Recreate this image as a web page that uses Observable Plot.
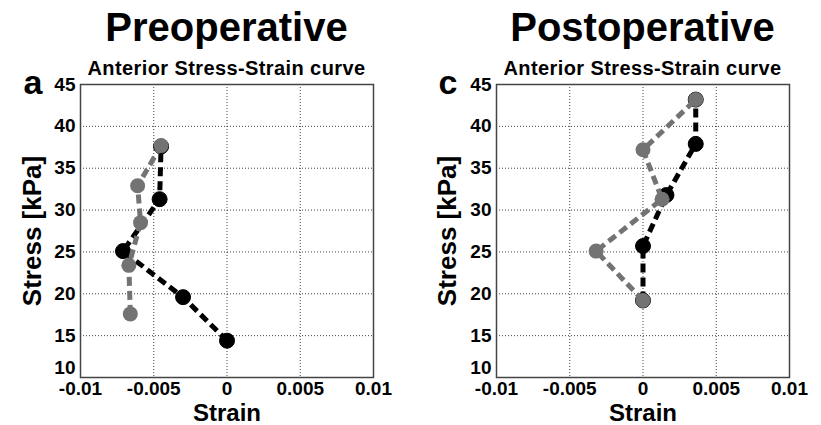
<!DOCTYPE html>
<html>
<head>
<meta charset="utf-8">
<script src="https://cdn.jsdelivr.net/npm/d3@7"></script>
<script src="https://cdn.jsdelivr.net/npm/@observablehq/plot@0.6"></script>
<style>
  html, body { margin: 0; padding: 0; background: #fff; }
  body { width: 821px; height: 425px; overflow: hidden; font-family: 'Liberation Sans', Arial, sans-serif; font-weight: bold; color: #000; }
  #wrap { display: flex; }
  .title { height: 58px; line-height: 54px; font-size: 40px; text-align: center; white-space: nowrap; }
  .subtitle { height: 20px; line-height: 20px; font-size: 20px; letter-spacing: 0.4px; text-align: center; white-space: nowrap; }
</style>
</head>
<body>
<div id="wrap"></div>
<script>
// ---- data ----
const titles = ["Preoperative", "Postoperative"];
const subtitles = ["Anterior Stress-Strain curve", "Anterior Stress-Strain curve"];
const panelLabels = ["a", "c"];

const preBlackStrain = [0, -0.0030, -0.0071, -0.0046, -0.0045];
const preBlackStress = [14.4, 19.6, 25.1, 31.3, 37.6];
const preGrayStrain  = [-0.0066, -0.0067, -0.0059, -0.0061, -0.0045];
const preGrayStress  = [17.6, 23.4, 28.5, 32.9, 37.7];

const postBlackStrain = [0, 0, 0.0016, 0.0036, 0.0036];
const postBlackStress = [19.2, 25.7, 31.8, 37.9, 43.2];
const postGrayStrain  = [0, -0.0032, 0.0013, 0, 0.0036];
const postGrayStress  = [19.2, 25.1, 31.3, 37.2, 43.2];

const xTicks = [-0.01, -0.005, 0, 0.005, 0.01];
const xTickLabels = ["-0.01", "-0.005", "0", "0.005", "0.01"];
const yTicks = [10, 15, 20, 25, 30, 35, 40, 45];
const xLabel = "Strain";
const yLabel = "Stress [kPa]";

const zip = (xs, ys) => xs.map((x, i) => ({strain: x, stress: ys[i]}));

const panels = [
  {black: zip(preBlackStrain, preBlackStress), gray: zip(preGrayStrain, preGrayStress),
   width: 410, marginLeft: 80, marginRight: 37, ylabDx: -48, labDx: -57},
  {black: zip(postBlackStrain, postBlackStress), gray: zip(postGrayStrain, postGrayStress),
   width: 411, marginLeft: 86, marginRight: 32, ylabDx: -49, labDx: -58}
];

const GRAY = "#737373";
const wrap = document.getElementById("wrap");

panels.forEach((p, k) => {
  const col = document.createElement("div");
  col.style.width = p.width + "px";
  const t = document.createElement("div");
  t.className = "title";
  t.style.paddingLeft = p.marginLeft + "px";
  t.style.paddingRight = p.marginRight + "px";
  t.textContent = titles[k];
  const s = document.createElement("div");
  s.className = "subtitle";
  s.style.paddingLeft = p.marginLeft + "px";
  s.style.paddingRight = p.marginRight + "px";
  s.textContent = subtitles[k];
  col.appendChild(t);
  col.appendChild(s);

  const lineOpts = {x: "strain", y: "stress", strokeWidth: 5, strokeDasharray: "9,5", strokeLinecap: "butt", strokeLinejoin: "miter"};
  const chart = Plot.plot({
    width: p.width,
    height: 347,
    marginLeft: p.marginLeft,
    marginRight: p.marginRight,
    marginTop: 6,
    marginBottom: 48,
    x: {domain: [-0.01, 0.01]},
    y: {domain: [10, 45]},
    style: {fontFamily: "'Liberation Sans', Arial, sans-serif", fontWeight: "bold", fontSize: "19px", color: "#000", background: "#fff", overflow: "visible"},
    marks: [
      Plot.gridX(xTicks, {stroke: "#000", strokeOpacity: 0.75, strokeDasharray: "1,2", strokeWidth: 1}),
      Plot.gridY(yTicks, {stroke: "#000", strokeOpacity: 0.75, strokeDasharray: "1,2", strokeWidth: 1}),
      Plot.frame({stroke: "#444", strokeWidth: 1.5}),
      Plot.axisX(xTicks, {anchor: "bottom", tickSize: 0, tickPadding: 4, label: null,
        tickFormat: d => xTickLabels[xTicks.indexOf(d)]}),
      Plot.axisY(yTicks.slice(1), {anchor: "left", tickSize: 0, tickPadding: 5, label: null}),
      Plot.axisY(yTicks.slice(0, 1), {anchor: "left", tickSize: 0, tickPadding: 5, label: null, dy: -10}),
      Plot.line(p.black, {...lineOpts, stroke: "#000"}),
      Plot.dot(p.black, {x: "strain", y: "stress", r: 7.5, fill: "#000", stroke: "#000", strokeWidth: 1}),
      Plot.line(p.gray, {...lineOpts, stroke: GRAY}),
      Plot.dot(p.gray, {x: "strain", y: "stress", r: 7.5, fill: GRAY}),
      Plot.text([xLabel], {frameAnchor: "bottom", dy: 43.5, lineAnchor: "bottom", fontSize: 24, fontWeight: "bold", fill: "#000"}),
      Plot.text([yLabel], {frameAnchor: "left", dx: p.ylabDx, rotate: -90, textAnchor: "middle", lineAnchor: "middle", fontSize: 26, fontWeight: "bold", fill: "#000"}),
      Plot.text([panelLabels[k]], {frameAnchor: "top-left", dx: p.labDx, dy: 9, textAnchor: "start", lineAnchor: "bottom", fontSize: 34, fontWeight: "bold", fill: "#000"})
    ]
  });
  col.appendChild(chart);
  wrap.appendChild(col);
});
</script>
</body>
</html>
